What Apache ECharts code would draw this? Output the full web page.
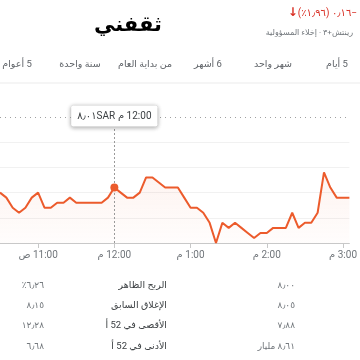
<!DOCTYPE html>
<html>
<head>
<meta charset="utf-8">
<script src="https://cdn.jsdelivr.net/npm/echarts@6/dist/echarts.min.js"></script>
<style>
  html, body { margin: 0; padding: 0; background: #fff; }
  #chart { width: 360px; height: 360px; }
</style>
</head>
<body>
<div id="chart" dir="rtl"></div>
<script>
// =====================
// 数据
// =====================

const times = [
  "10:30", "10:35", "10:40", "10:45", "10:50", "10:55",
  "11:00", "11:05", "11:10", "11:15", "11:20", "11:25",
  "11:30", "11:35", "11:40", "11:45", "11:50", "11:55",
  "12:00", "12:05", "12:10", "12:15", "12:20", "12:25",
  "12:30", "12:35", "12:40", "12:45", "12:50", "12:55",
  "13:00", "13:05", "13:10", "13:15", "13:20", "13:25",
  "13:30", "13:35", "13:40", "13:45", "13:50", "13:55",
  "14:00", "14:05", "14:10", "14:15", "14:20", "14:25",
  "14:30", "14:35", "14:40", "14:45", "14:50", "14:55",
  "15:00", "15:05",
];

const prices = [
  8.00, 7.99, 7.97, 7.96, 7.97, 7.99,
  8.00, 7.97, 7.97, 7.98, 7.98, 7.99,
  7.98, 7.98, 7.98, 7.98, 7.98, 7.99,
  8.01, 8.00, 7.99, 7.99, 8.00, 8.03,
  8.03, 8.02, 8.01, 8.01, 8.01, 7.99,
  7.97, 7.97, 7.96, 7.94, 7.90, 7.94,
  7.93, 7.94, 7.93, 7.92, 7.91, 7.92,
  7.92, 7.93, 7.93, 7.93, 7.96, 7.93,
  7.94, 7.94, 7.96, 8.04, 8.01, 7.99,
  7.99, 7.99,
];

const previousClose = 8.15;
const hoverTime = "12:00";

const tickTimes = ["11:00", "12:00", "13:00", "14:00", "15:00"];
const tickLabels = ["11:00 ص", "12:00 م", "1:00 م", "2:00 م", "3:00 م"];

const tabs = ["5 أيام", "شهر واحد", "6 أشهر", "من بداية العام", "سنة واحدة", "5 أعوام"];

const statLabels = ["الربح الظاهر", "الإغلاق السابق", "الأقصى في 52 أ", "الأدنى في 52 أ"];
const statValues = ["٦٫٢٦٪", "٨٫١٥", "١٢٫٢٨", "٦٫٦٨"];
const statValues2 = ["٨٫٠٠", "٨٫٠٥", "٧٫٨٨", "٨٫٦١ مليار"];

// =====================
// 样式
// =====================

const LINE = "#ec5b2c";
const FONT = "Roboto, 'DejaVu Sans', sans-serif";

const chart = echarts.init(document.getElementById("chart"));

function text(x, y, str, opts) {
  return {
    type: "text",
    x: x,
    y: y,
    silent: true,
    style: Object.assign(
      {
        text: str,
        fontFamily: FONT,
        fontSize: 9.5,
        fill: "#5f6368",
        align: "center",
        verticalAlign: "middle",
      },
      opts || {}
    ),
  };
}

const graphics = [];

// 标题
graphics.push(text(128, 26, "ثقفني", { fontSize: 21, fontWeight: "bold", fill: "#000", fontFamily: "'DejaVu Sans', sans-serif" }));

// 涨跌
graphics.push(
  text(357, 13, "{a|↓}{b|−٠٫١٦ (١٫٩٦٪)}", {
    align: "right",
    rich: {
      a: { fontSize: 12, fontWeight: "bold", fill: "#d93025", fontFamily: FONT },
      b: { fontSize: 10, fill: "#d93025", fontFamily: FONT },
    },
  })
);

graphics.push(
  text(353, 33, "رينتش+٣ · إخلاء المسؤولية", {
    align: "right",
    fontSize: 8,
    fill: "#70757a",
  })
);

// 标签页
const tabX = [337, 273, 208, 145, 80, 17];
tabs.forEach((t, i) => {
  graphics.push(text(tabX[i], 65, t, { fontSize: 9.5 }));
});

graphics.push({
  type: "rect",
  silent: true,
  shape: { x: 0, y: 82.5, width: 360, height: 1 },
  style: { fill: "#ebebeb" },
});

// 统计
const rowY = [286, 306, 326, 347];
statLabels.forEach((t, i) => {
  graphics.push(text(167, rowY[i], t, { align: "right", fill: "#3c4043", fontSize: 9.5 }));
  graphics.push(text(44, rowY[i], statValues[i], { align: "right", fill: "#70757a", fontSize: 9 }));
  graphics.push(text(295, rowY[i], statValues2[i], { align: "right", fill: "#70757a", fontSize: 9 }));
});

// =====================
// 图表
// =====================

const hoverIndex = times.indexOf(hoverTime);

chart.setOption({
  animation: false,

  graphic: graphics,

  grid: {
    left: -1,
    right: 0,
    top: 117,
    bottom: 117,
  },

  xAxis: {
    type: "category",
    boundaryGap: false,
    data: times,

    axisLine: { lineStyle: { color: "#c8c8c8", width: 1 } },

    axisTick: {
      length: 5,
      lineStyle: { color: "#c8c8c8" },
      interval: (i, v) => tickTimes.includes(v),
    },

    axisLabel: {
      interval: (i, v) => tickTimes.includes(v),
      formatter: (v) => tickLabels[tickTimes.indexOf(v)],
      color: "#70757a",
      fontSize: 10,
      fontFamily: FONT,
      margin: 7,
    },

    splitLine: { show: false },
  },

  yAxis: {
    type: "value",
    min: 7.9,
    max: 8.15,
    interval: 0.05,
    axisLabel: { show: false },
    axisLine: { show: false },
    axisTick: { show: false },
    splitLine: {
      showMinLine: false,
      showMaxLine: false,
      lineStyle: { color: "#f1f1f1" },
    },
  },

  series: [
    {
      type: "line",
      data: prices,
      symbol: "none",
      lineStyle: { color: LINE, width: 2 },
      areaStyle: {
        color: new echarts.graphic.LinearGradient(0, 0, 0, 1, [
          { offset: 0, color: "rgba(236,91,44,0.10)" },
          { offset: 1, color: "rgba(236,91,44,0.02)" },
        ]),
      },

      markLine: {
        silent: true,
        symbol: ["none", "none"],
        label: { show: false },
        data: [
          {
            yAxis: previousClose,
            lineStyle: { color: "#a0a0a0", type: [1, 4], width: 1 },
          },
          {
            xAxis: hoverTime,
            lineStyle: { color: "#9a9a9a", type: [2, 2], width: 1 },
          },
        ],
      },

      markPoint: {
        z: 10,
        silent: true,
        data: [
          {
            coord: [hoverTime, prices[hoverIndex]],
            symbol: "circle",
            symbolSize: 8,
            itemStyle: { color: LINE },
            label: { show: false },
          },
          {
            coord: [hoverTime, previousClose],
            symbol: "rect",
            symbolSize: 1,
            itemStyle: { color: "rgba(0,0,0,0)" },
            label: {
              show: true,
              position: "inside",
              offset: [0, -1],
              formatter: "{v|٨٫٠١}{v|SAR}{s| }{v|12:00 م}",
              backgroundColor: "#fff",
              borderColor: "#e6e6e6",
              borderWidth: 0.5,
              borderRadius: 2,
              shadowColor: "rgba(0,0,0,0.3)",
              shadowBlur: 4,
              shadowOffsetY: 1,
              padding: [6, 6, 5, 6],
              rich: {
                v: { fontSize: 10, color: "#3c4043", fontFamily: FONT },
                s: { fontSize: 10 },
              },
            },
          },
        ],
      },
    },
  ],
});
</script>
</body>
</html>
